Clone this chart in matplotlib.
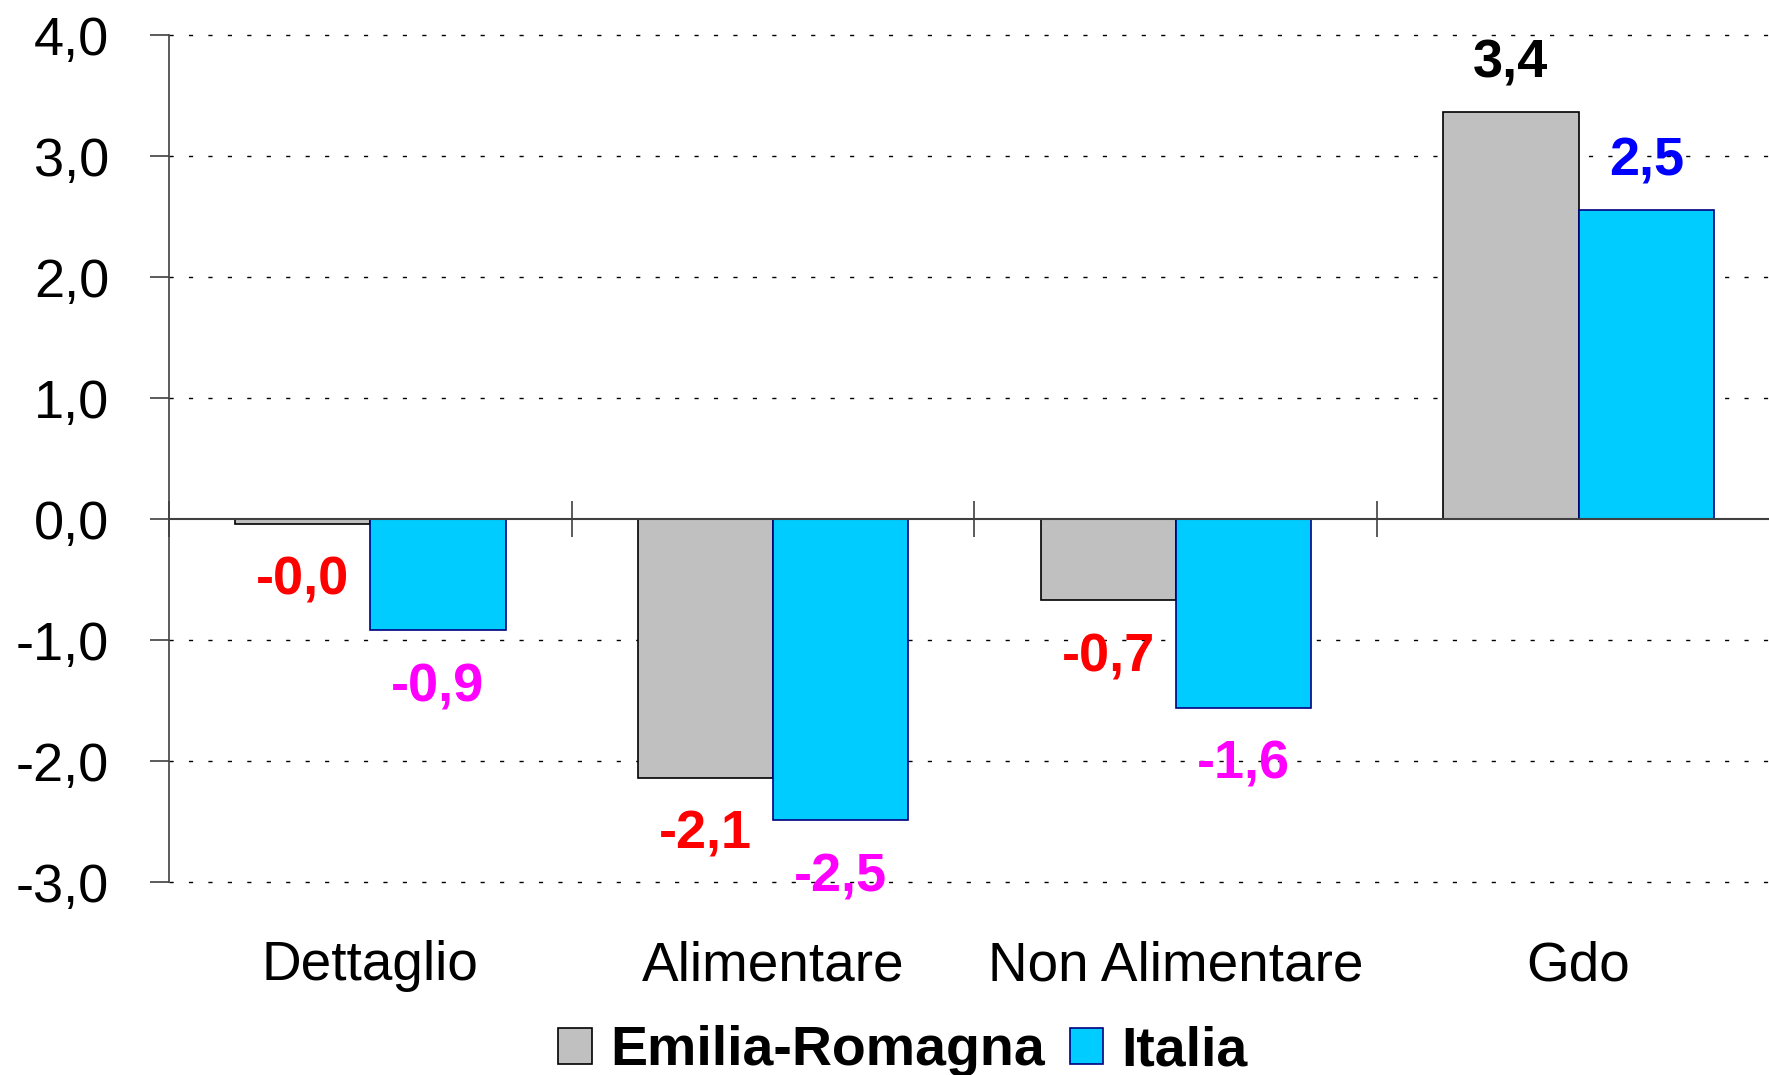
import matplotlib.pyplot as plt
import numpy as np

categories = ["Dettaglio", "Alimentare", "Non Alimentare", "Gdo"]
emilia = [-0.04, -2.14, -0.67, 3.36]
italia = [-0.92, -2.49, -1.56, 2.55]
series_names = ["Emilia-Romagna", "Italia"]
yticks = [-3, -2, -1, 0, 1, 2, 3, 4]

plt.rcParams['font.family'] = ['Liberation Sans', 'DejaVu Sans']

fig = plt.figure(figsize=(17.69, 10.75), dpi=100)
ax = fig.add_axes([0.0955, 0.1795, 0.9107, 0.7879])

x = np.arange(len(categories))
w = 0.336
b1 = ax.bar(x - w/2, emilia, w, color="#C0C0C0", edgecolor="#000000", lw=1.2, zorder=3,
            label=series_names[0])
b2 = ax.bar(x + w/2, italia, w, color="#00CCFF", edgecolor="#000080", lw=1.2, zorder=3,
            label=series_names[1])

ax.set_xlim(-0.5, len(categories) - 0.5)
ax.set_ylim(-3, 4)
ax.set_yticks(yticks)
ax.set_yticklabels([f"{v:.1f}".replace(".", ",") for v in yticks], fontsize=39)
ax.set_xticks(x)
ax.set_xticklabels(categories, fontsize=39.5)
ax.tick_params(axis="x", length=0, pad=42)
ax.tick_params(axis="y", length=14, width=1.2, color="#404040", pad=29)

for s in ["top", "right", "bottom"]:
    ax.spines[s].set_visible(False)
ax.spines["left"].set_color("#404040")
ax.spines["left"].set_linewidth(1.2)

# dotted grid, solid zero line
for v in yticks:
    if v != 0:
        ax.axhline(v, color="black", lw=1.0, ls=(0, (3, 11)), zorder=1, clip_on=False)
ax.axhline(0, color="#404040", lw=1.5, zorder=4)

# category divider ticks on the zero line
bounds = np.arange(0, len(categories)) - 0.5
ax.vlines(bounds, -0.15, 0.15, color="#404040", lw=1.2, zorder=4, clip_on=False)

def fmt(v):
    return f"{v:.1f}".replace(".", ",")

for bars, vals, negc, posc in [(b1, emilia, "#FF0000", "#000000"),
                               (b2, italia, "#FF00FF", "#0000FF")]:
    for bar, v in zip(bars, vals):
        cx = bar.get_x() + bar.get_width() / 2
        off = 35 if v >= 0 else -41
        ax.annotate(fmt(v), (cx, v), xytext=(0, off), textcoords="offset points",
                    ha="center", va="center", fontsize=39, fontweight="bold",
                    color=posc if v >= 0 else negc, zorder=5)

leg = fig.legend(loc="center", bbox_to_anchor=(0.5105, 0.022), ncol=2, frameon=False,
                 prop={"size": 40, "weight": "bold"}, handlelength=0.6, handleheight=0.62,
                 handletextpad=0.33, columnspacing=0.45)

fig.savefig("out.png", dpi=100)
